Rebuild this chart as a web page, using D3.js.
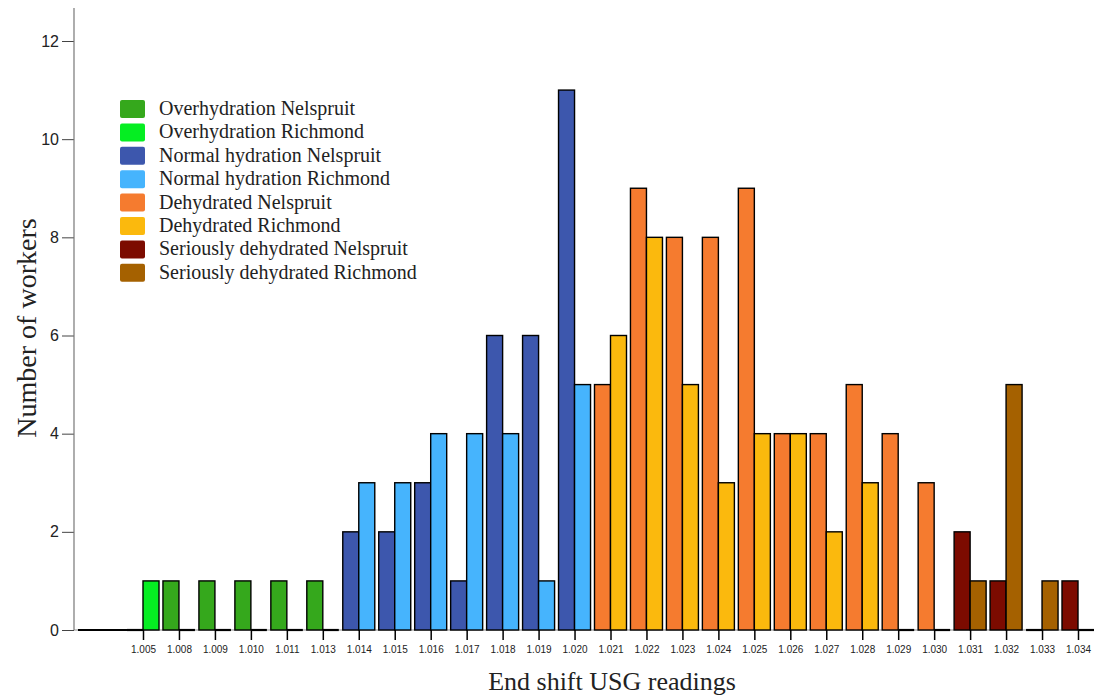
<!DOCTYPE html>
<html>
<head>
<meta charset="utf-8">
<script src="https://cdn.jsdelivr.net/npm/d3@7"></script>
<style>
  body { margin: 0; background: #fff; }
  svg { display: block; }
</style>
</head>
<body>
<svg id="chart" width="1094" height="696"></svg>
<script>
// End-of-shift urine specific gravity readings, workers per reading and site
const readings = ["1.005","1.008","1.009","1.010","1.011","1.013","1.014","1.015","1.016",
  "1.017","1.018","1.019","1.020","1.021","1.022","1.023","1.024","1.025","1.026","1.027",
  "1.028","1.029","1.030","1.031","1.032","1.033","1.034"];
const nelspruit = [0,1,1,1,1,1, 2,2,3,1,6,6,11, 5,9,8,8,9,4,4,5,4,3, 2,1,0,1];
const richmond  = [1,0,0,0,0,0, 3,3,4,4,4,1,5, 6,8,5,3,4,4,2,3,0,0, 1,5,1,0];
// hydration class of each reading (index into classNames)
const hydrationClass = [0,0,0,0,0,0, 1,1,1,1,1,1,1, 2,2,2,2,2,2,2,2,2,2, 3,3,3,3];
const classNames = ["Overhydration","Normal hydration","Dehydrated","Seriously dehydrated"];
const sites = ["Nelspruit","Richmond"];
const classColors = [
  ["#35a81c","#05ee22"],
  ["#3d57ad","#46b4fd"],
  ["#f57b2f","#fbb90d"],
  ["#7c0b00","#a56100"]
];
const yTicks = [0,2,4,6,8,10,12];

const svg = d3.select("#chart");
const axisX = 74, baseY = 630;

const x = d3.scalePoint().domain(readings).range([143, 1078]);
const y = d3.scaleLinear().domain([0, 12]).range([baseY, 41]);
const barW = x.step() * 0.445;

// flatten into one record per bar
const bars = [];
readings.forEach((r, i) => {
  [nelspruit[i], richmond[i]].forEach((v, s) => {
    bars.push({ reading: r, site: s, value: v, cls: hydrationClass[i] });
  });
});
const barX = d => d.site === 0 ? x(d.reading) - barW : x(d.reading);

// x axis line
svg.append("line")
  .attr("x1", axisX).attr("x2", 1090)
  .attr("y1", baseY).attr("y2", baseY)
  .attr("stroke", "#8a8a8a").attr("stroke-width", 1);

// zero baseline run before the first reading
svg.append("line")
  .attr("x1", axisX + 4).attr("x2", x(readings[0]) - barW)
  .attr("y1", baseY).attr("y2", baseY)
  .attr("stroke", "#000").attr("stroke-width", 2.2);

// x ticks and labels
const xAxis = d3.axisBottom(x).tickSize(10).tickPadding(6);
const gx = svg.append("g").attr("transform", `translate(0,${baseY})`).call(xAxis);
gx.select(".domain").remove();
gx.selectAll(".tick line").attr("stroke", "#000").attr("stroke-width", 1.5);
gx.selectAll(".tick text")
  .attr("font-family", "Liberation Sans, Arial, sans-serif")
  .attr("font-size", 10).attr("fill", "#222");

// bars with a count
svg.append("g").selectAll("rect").data(bars.filter(d => d.value > 0)).join("rect")
  .attr("x", barX)
  .attr("y", d => y(d.value))
  .attr("width", barW)
  .attr("height", d => y(0) - y(d.value))
  .attr("fill", d => classColors[d.cls][d.site])
  .attr("stroke", "#000")
  .attr("stroke-width", 1.4);

// empty bars collapse to a flat outline on the baseline
svg.append("g").selectAll("line").data(bars.filter(d => d.value === 0)).join("line")
  .attr("x1", barX)
  .attr("x2", d => barX(d) + barW)
  .attr("y1", d => y(d.value)).attr("y2", d => y(d.value))
  .attr("stroke", "#000").attr("stroke-width", 2.2);

// y axis
const yAxis = d3.axisLeft(y).tickValues(yTicks).tickSize(12).tickPadding(3).tickSizeOuter(0);
const gy = svg.append("g").attr("transform", `translate(${axisX},0)`).call(yAxis);
gy.select(".domain").remove();
gy.selectAll(".tick line").attr("stroke", "#444").attr("stroke-width", 1);
gy.selectAll(".tick text")
  .attr("font-family", "Liberation Sans, Arial, sans-serif")
  .attr("font-size", 16).attr("fill", "#222");
svg.append("line")
  .attr("x1", axisX).attr("x2", axisX)
  .attr("y1", 8).attr("y2", baseY)
  .attr("stroke", "#777").attr("stroke-width", 1.2);

// axis titles
svg.append("text")
  .attr("x", 612).attr("y", 690)
  .attr("text-anchor", "middle")
  .attr("font-family", "Liberation Serif, Times New Roman, serif")
  .attr("font-size", 26).attr("fill", "#222")
  .text("End shift USG readings");
svg.append("text")
  .attr("transform", "translate(36,328) rotate(-90)")
  .attr("text-anchor", "middle")
  .attr("font-family", "Liberation Serif, Times New Roman, serif")
  .attr("font-size", 28).attr("fill", "#222")
  .text("Number of workers");

// legend
const legendItems = [];
classNames.forEach((c, ci) => sites.forEach((s, si) =>
  legendItems.push({ label: c + " " + s, color: classColors[ci][si] })));
const lg = svg.append("g").attr("transform", "translate(120,100)");
const li = lg.selectAll("g").data(legendItems).join("g")
  .attr("transform", (d, i) => `translate(0,${i * 23.4})`);
li.append("rect")
  .attr("width", 25).attr("height", 18).attr("rx", 2)
  .attr("fill", d => d.color);
li.append("text")
  .attr("x", 39).attr("y", 15)
  .attr("font-family", "Liberation Serif, Times New Roman, serif")
  .attr("font-size", 20).attr("fill", "#222")
  .text(d => d.label);
</script>
</body>
</html>
